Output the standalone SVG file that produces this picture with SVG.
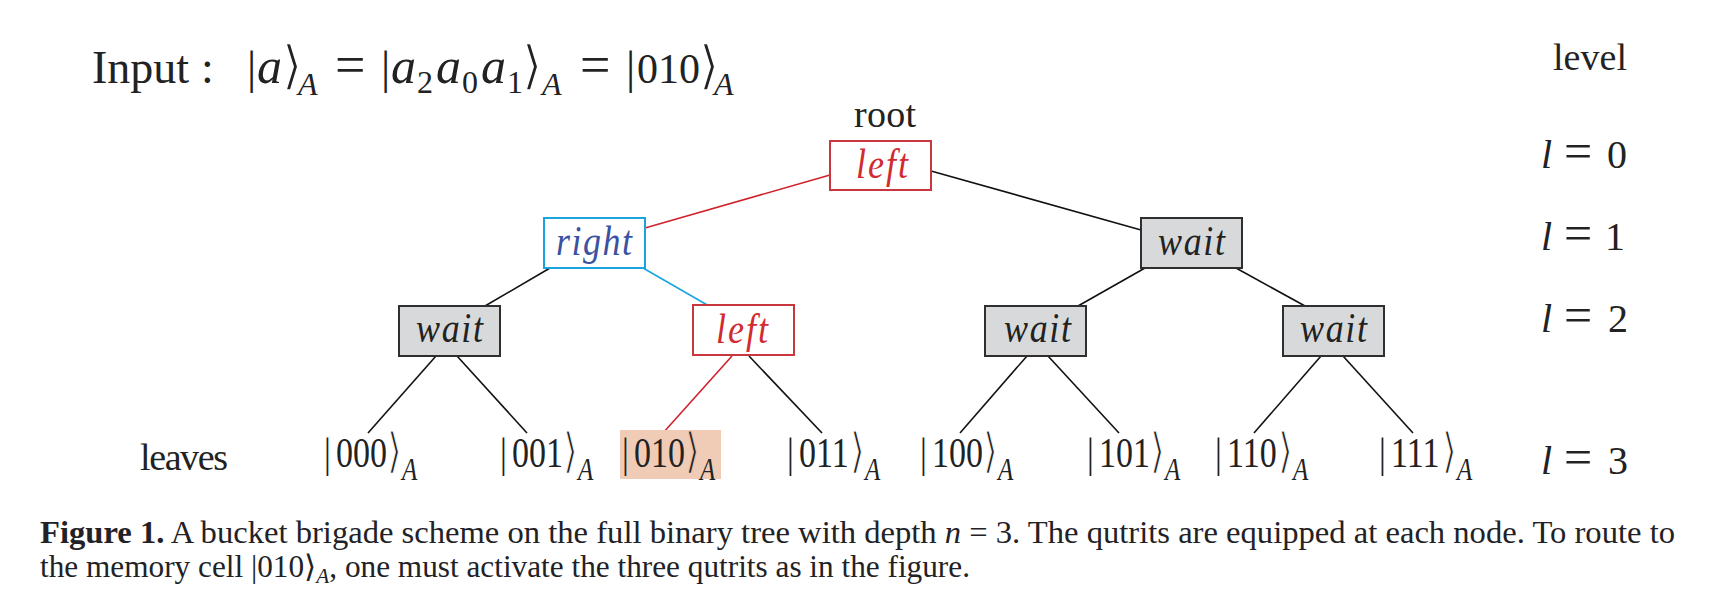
<svg xmlns="http://www.w3.org/2000/svg" width="1719" height="608" viewBox="0 0 1719 608">
<style>
text{font-family:"Liberation Serif","DejaVu Serif",serif;fill:#222}
.it{font-style:italic}
.title{font-size:46px}
.ta{font-size:50px;font-style:italic}
.teq{font-size:54px}
.tang{font-size:52px;font-family:"DejaVu Sans",sans-serif;stroke:#fff;stroke-width:1.2}
.tsub{font-size:32px}
.lbl{font-size:38px}
.lvl{font-size:40px}
.lvl .eq{font-size:50px}
.leaf{font-size:34px}
.ang{font-size:38px;font-family:"DejaVu Sans",sans-serif;stroke:#fff;stroke-width:1}
.hl .ang{stroke:#f0cbb5}
.lsub{font-size:25px;font-style:italic}
.bt{font-size:36px;font-style:italic}
.cap{font-size:31px;fill:#222226}
.box{stroke-width:2}
.wait{fill:#d8d9db;stroke:#2f2f2f}
.red{fill:#fff;stroke:#c8363e}
.cyan{fill:#fff;stroke:#1ba3df}
.edge{stroke:#111;stroke-width:1.6;fill:none}
.edge-red{stroke:#d0222c}
.edge-cyan{stroke:#1aa5e0}
</style>

<!-- title -->
<text class="title" y="83">
<tspan x="92">Input</tspan><tspan x="201">:</tspan><tspan x="247">|</tspan><tspan x="257" class="ta">a</tspan><tspan x="282" class="tang">⟩</tspan><tspan x="298" y="95" class="tsub it">A</tspan><tspan x="335" y="83" class="teq">=</tspan><tspan x="381">|</tspan><tspan x="391" class="ta">a</tspan><tspan x="417" y="93" class="tsub">2</tspan><tspan x="436" y="83" class="ta">a</tspan><tspan x="462" y="93" class="tsub">0</tspan><tspan x="481" y="83" class="ta">a</tspan><tspan x="507" y="93" class="tsub">1</tspan><tspan x="522" y="83" class="tang">⟩</tspan><tspan x="542" y="95" class="tsub it">A</tspan><tspan x="580" y="83" class="teq">=</tspan><tspan x="626">|</tspan><tspan x="637" style="font-size:42px">010</tspan><tspan x="699" class="tang">⟩</tspan><tspan x="714" y="95" class="tsub it">A</tspan>
</text>

<!-- side labels -->
<text class="lbl" x="854" y="127" textLength="62">root</text>
<text class="lbl" x="1553" y="70" textLength="74">level</text>
<text class="lbl" x="140" y="470" textLength="88">leaves</text>
<g id="levels">
<text class="lvl" y="168"><tspan x="1541" class="it">l</tspan><tspan x="1564" class="eq">=</tspan><tspan x="1607">0</tspan></text>
<text class="lvl" y="250"><tspan x="1541" class="it">l</tspan><tspan x="1564" class="eq">=</tspan><tspan x="1605">1</tspan></text>
<text class="lvl" y="332"><tspan x="1541" class="it">l</tspan><tspan x="1564" class="eq">=</tspan><tspan x="1608">2</tspan></text>
<text class="lvl" y="474"><tspan x="1541" class="it">l</tspan><tspan x="1564" class="eq">=</tspan><tspan x="1608">3</tspan></text>
</g>

<!-- connectors -->
<g id="connectors">
<line class="edge edge-red" x1="830" y1="175" x2="645" y2="228"/>
<line class="edge" x1="931" y1="171" x2="1141" y2="230"/>
<line class="edge" x1="550" y1="268" x2="485" y2="306"/>
<line class="edge edge-cyan" x1="643" y1="268" x2="709" y2="306"/>
<line class="edge" x1="1145" y1="268" x2="1078" y2="306"/>
<line class="edge" x1="1236" y1="268" x2="1305" y2="306"/>
<line class="edge" x1="436" y1="356" x2="368" y2="433"/>
<line class="edge" x1="457" y1="356" x2="527" y2="433"/>
<line class="edge edge-red" x1="732" y1="356" x2="663" y2="433"/>
<line class="edge" x1="749" y1="356" x2="822" y2="433"/>
<line class="edge" x1="1027" y1="356" x2="960" y2="433"/>
<line class="edge" x1="1048" y1="356" x2="1119" y2="433"/>
<line class="edge" x1="1321" y1="356" x2="1254" y2="433"/>
<line class="edge" x1="1343" y1="356" x2="1413" y2="433"/>
</g>

<!-- nodes -->
<g id="node-root">
<rect class="box red" x="830" y="141" width="101" height="49"/>
<text class="bt" style="fill:#d12b2f" transform="translate(856 178) scale(1 1.2)" textLength="52">left</text>
</g>
<g id="node-l1-right">
<rect class="box cyan" x="544" y="218" width="101" height="50"/>
<text class="bt" style="fill:#3a52a2" transform="translate(556 255) scale(1 1.2)" textLength="76">right</text>
</g>
<g id="node-l1-wait">
<rect class="box wait" x="1141" y="218" width="101" height="50"/>
<text class="bt" transform="translate(1158 255) scale(1 1.2)" textLength="67">wait</text>
</g>
<g id="node-l2-wait-a">
<rect class="box wait" x="399" y="306" width="101" height="50"/>
<text class="bt" transform="translate(416 342) scale(1 1.2)" textLength="67">wait</text>
</g>
<g id="node-l2-left">
<rect class="box red" x="693" y="305" width="101" height="50"/>
<text class="bt" style="fill:#d12b2f" transform="translate(716 343) scale(1 1.2)" textLength="52">left</text>
</g>
<g id="node-l2-wait-c">
<rect class="box wait" x="985" y="306" width="101" height="50"/>
<text class="bt" transform="translate(1004 342) scale(1 1.2)" textLength="67">wait</text>
</g>
<g id="node-l2-wait-d">
<rect class="box wait" x="1283" y="306" width="101" height="50"/>
<text class="bt" transform="translate(1300 342) scale(1 1.2)" textLength="67">wait</text>
</g>

<!-- leaves -->
<g id="leaf-000"><text class="leaf" transform="translate(327 467) scale(1 1.25)"><tspan x="-3">|</tspan><tspan x="9">000</tspan><tspan x="60" class="ang">⟩</tspan><tspan x="75" y="10" class="lsub">A</tspan></text></g>
<g id="leaf-001"><text class="leaf" transform="translate(503 467) scale(1 1.25)"><tspan x="-3">|</tspan><tspan x="9">001</tspan><tspan x="60" class="ang">⟩</tspan><tspan x="75" y="10" class="lsub">A</tspan></text></g>
<g id="leaf-010" class="hl">
<rect x="620" y="430" width="101" height="49" fill="#f0cbb5"/>
<text class="leaf" transform="translate(625 467) scale(1 1.25)"><tspan x="-3">|</tspan><tspan x="9">010</tspan><tspan x="60" class="ang">⟩</tspan><tspan x="75" y="10" class="lsub">A</tspan></text></g>
<g id="leaf-011"><text class="leaf" transform="translate(790 467) scale(1 1.25)"><tspan x="-3">|</tspan><tspan x="9">011</tspan><tspan x="60" class="ang">⟩</tspan><tspan x="75" y="10" class="lsub">A</tspan></text></g>
<g id="leaf-100"><text class="leaf" transform="translate(923 467) scale(1 1.25)"><tspan x="-3">|</tspan><tspan x="9">100</tspan><tspan x="60" class="ang">⟩</tspan><tspan x="75" y="10" class="lsub">A</tspan></text></g>
<g id="leaf-101"><text class="leaf" transform="translate(1090 467) scale(1 1.25)"><tspan x="-3">|</tspan><tspan x="9">101</tspan><tspan x="60" class="ang">⟩</tspan><tspan x="75" y="10" class="lsub">A</tspan></text></g>
<g id="leaf-110"><text class="leaf" transform="translate(1218 467) scale(1 1.25)"><tspan x="-3">|</tspan><tspan x="9">110</tspan><tspan x="60" class="ang">⟩</tspan><tspan x="75" y="10" class="lsub">A</tspan></text></g>
<g id="leaf-111"><text class="leaf" transform="translate(1382 467) scale(1 1.25)"><tspan x="-3">|</tspan><tspan x="9">111</tspan><tspan x="60" class="ang">⟩</tspan><tspan x="75" y="10" class="lsub">A</tspan></text></g>

<!-- caption -->
<text class="cap" x="40" y="543" textLength="1635" lengthAdjust="spacingAndGlyphs"><tspan font-weight="bold">Figure 1.</tspan>   A bucket brigade scheme on the full binary tree with depth <tspan class="it">n</tspan> = 3. The qutrits are equipped at each node. To route to</text>
<text class="cap" x="40" y="577" textLength="930" lengthAdjust="spacingAndGlyphs">the memory cell |010⟩<tspan dy="6" font-size="21" class="it">A</tspan><tspan dy="-6">, one must activate the three qutrits as in the figure.</tspan></text>
</svg>
